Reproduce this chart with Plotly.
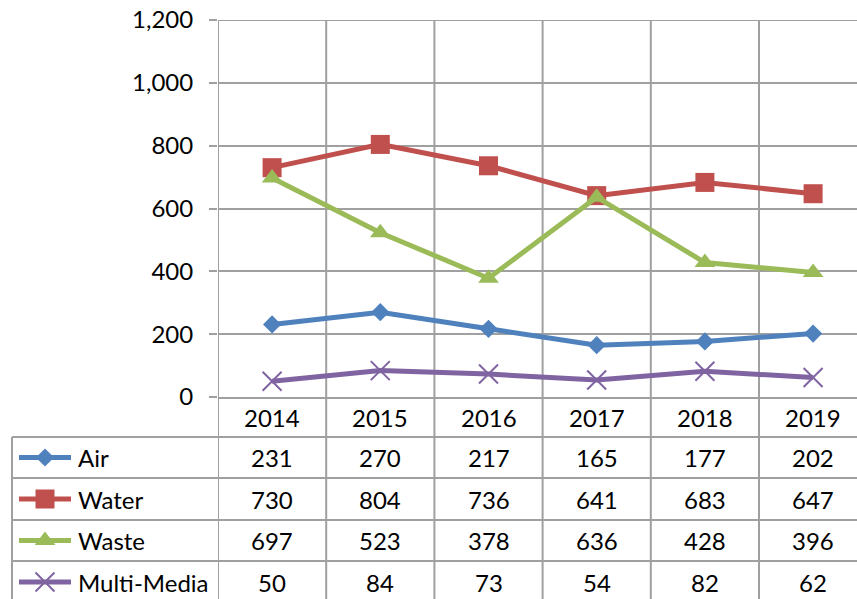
import plotly.graph_objects as go

# ---- data ----
years = ["2014", "2015", "2016", "2017", "2018", "2019"]
series_names = ["Air", "Water", "Waste", "Multi-Media"]
air = [231, 270, 217, 165, 177, 202]
water = [730, 804, 736, 641, 683, 647]
waste = [697, 523, 378, 636, 428, 396]
multimedia = [50, 84, 73, 54, 82, 62]
y_ticks = [0, 200, 400, 600, 800, 1000, 1200]

series_values = [air, water, waste, multimedia]
colors = ["#4F81BD", "#C0504D", "#9BBB59", "#8064A2"]
symbols = ["diamond", "square", "triangle-up", "x-thin"]
msizes = [14, 19, 18, 19]

# ---- layout constants (pixels, figure coords; body margin removed in the page) ----
W, H = 857, 599
PLOT_L, PLOT_T, PLOT_B = 218, 20, 397
COL_W = 108.2
TABLE_LEFT = 12
ROW_EDGES = [397, 437, 478, 520, 561, 603]
KEY_X0, KEY_XM, KEY_X1, LABEL_X = 19, 45, 71, 76
GRID = "#A0A0A0"
FONT = "Lato"
FS = 24
LW = 5

fig = go.Figure()

def make_marker(sym, ms, c):
    m = dict(symbol=sym, size=ms, color=c)
    if sym == "x-thin":
        m["line"] = dict(color=c, width=2)
    return m

for name, vals, c, sym, ms in zip(series_names, series_values, colors, symbols, msizes):
    fig.add_trace(go.Scatter(
        x=years, y=vals, name=name, mode="lines+markers",
        line=dict(color=c, width=LW), marker=make_marker(sym, ms, c), showlegend=False,
        cliponaxis=False, xaxis="x", yaxis="y"))

x_span = (W - PLOT_L) / COL_W
fig.update_layout(
    template="none",
    width=W, height=H,
    margin=dict(l=0, r=0, t=0, b=0, pad=0, autoexpand=False),
    paper_bgcolor="white", plot_bgcolor="rgba(0,0,0,0)",
    font=dict(family=FONT, size=FS, color="black"),
    xaxis=dict(type="category", categoryorder="array", categoryarray=years,
               domain=[PLOT_L / W, 1], range=[-0.5, -0.5 + x_span],
               showgrid=False, showticklabels=False, zeroline=False, ticks="",
               showline=True, linecolor=GRID, linewidth=2, anchor="y",
               automargin=False),
    yaxis=dict(domain=[(H - PLOT_B) / H, (H - PLOT_T) / H], range=[0, 1200],
               tickvals=y_ticks, ticktext=[f"{v:,}" for v in y_ticks],
               showgrid=True, gridcolor=GRID, gridwidth=2, zeroline=False,
               showline=False, ticks="outside", ticklen=8, tickcolor=GRID,
               tickwidth=2, ticklabelstandoff=11, anchor="x", automargin=False,
               ticklabeloverflow="allow",
               tickfont=dict(family=FONT, size=FS, color="black")),
    xaxis2=dict(domain=[0, 1], range=[0, W], visible=False, anchor="y2",
                automargin=False, fixedrange=True),
    yaxis2=dict(domain=[0, 1], range=[H, 0], visible=False, anchor="x2",
                automargin=False, fixedrange=True),
)

shapes = []
# top gridline (plotly skips the one at the range edge)
shapes.append(dict(type="line", xref="x domain", yref="y", x0=0, x1=1,
                   y0=y_ticks[-1], y1=y_ticks[-1], line=dict(color=GRID, width=2),
                   layer="below"))
# vertical column boundaries (through plot and table)
for i in range(len(years) + 1):
    shapes.append(dict(type="line", xref="x", yref="y2", x0=i - 0.5, x1=i - 0.5,
                       y0=PLOT_T, y1=ROW_EDGES[-1], line=dict(color=GRID, width=2),
                       layer="below"))
# table horizontal lines
for yy in ROW_EDGES[1:-1]:
    shapes.append(dict(type="line", xref="x2", yref="y2", x0=TABLE_LEFT, x1=W,
                       y0=yy, y1=yy, line=dict(color=GRID, width=2)))
# table left border
shapes.append(dict(type="line", xref="x2", yref="y2", x0=TABLE_LEFT, x1=TABLE_LEFT,
                   y0=ROW_EDGES[1], y1=ROW_EDGES[-1], line=dict(color=GRID, width=2)))

annotations = []
# header row
hc = (ROW_EDGES[0] + ROW_EDGES[1]) / 2
for i, yr in enumerate(years):
    annotations.append(dict(x=i, y=hc, xref="x", yref="y2", text=yr,
                            showarrow=False, xanchor="center", yanchor="middle"))

for r, (name, vals, c, sym, ms) in enumerate(zip(series_names, series_values, colors, symbols, msizes)):
    yc = (ROW_EDGES[r + 1] + ROW_EDGES[r + 2]) / 2
    for i, v in enumerate(vals):
        annotations.append(dict(x=i, y=yc, xref="x", yref="y2", text=str(v),
                                showarrow=False, xanchor="center", yanchor="middle"))
    annotations.append(dict(x=LABEL_X, y=yc, xref="x2", yref="y2", text=name,
                            showarrow=False, xanchor="left", yanchor="middle"))
    # legend key line
    shapes.append(dict(type="line", xref="x2", yref="y2", x0=KEY_X0, x1=KEY_X1, y0=yc, y1=yc,
                       line=dict(color=c, width=LW)))
    fig.add_trace(go.Scatter(x=[KEY_XM], y=[yc], mode="markers",
                             marker=make_marker(sym, ms, c),
                             xaxis="x2", yaxis="y2", showlegend=False,
                             hoverinfo="skip", cliponaxis=False))

fig.update_layout(shapes=shapes, annotations=annotations)
fig.write_html("out.html", config={"displayModeBar": False},
               post_script="document.body.style.margin='0px';document.body.style.overflow='hidden';")
